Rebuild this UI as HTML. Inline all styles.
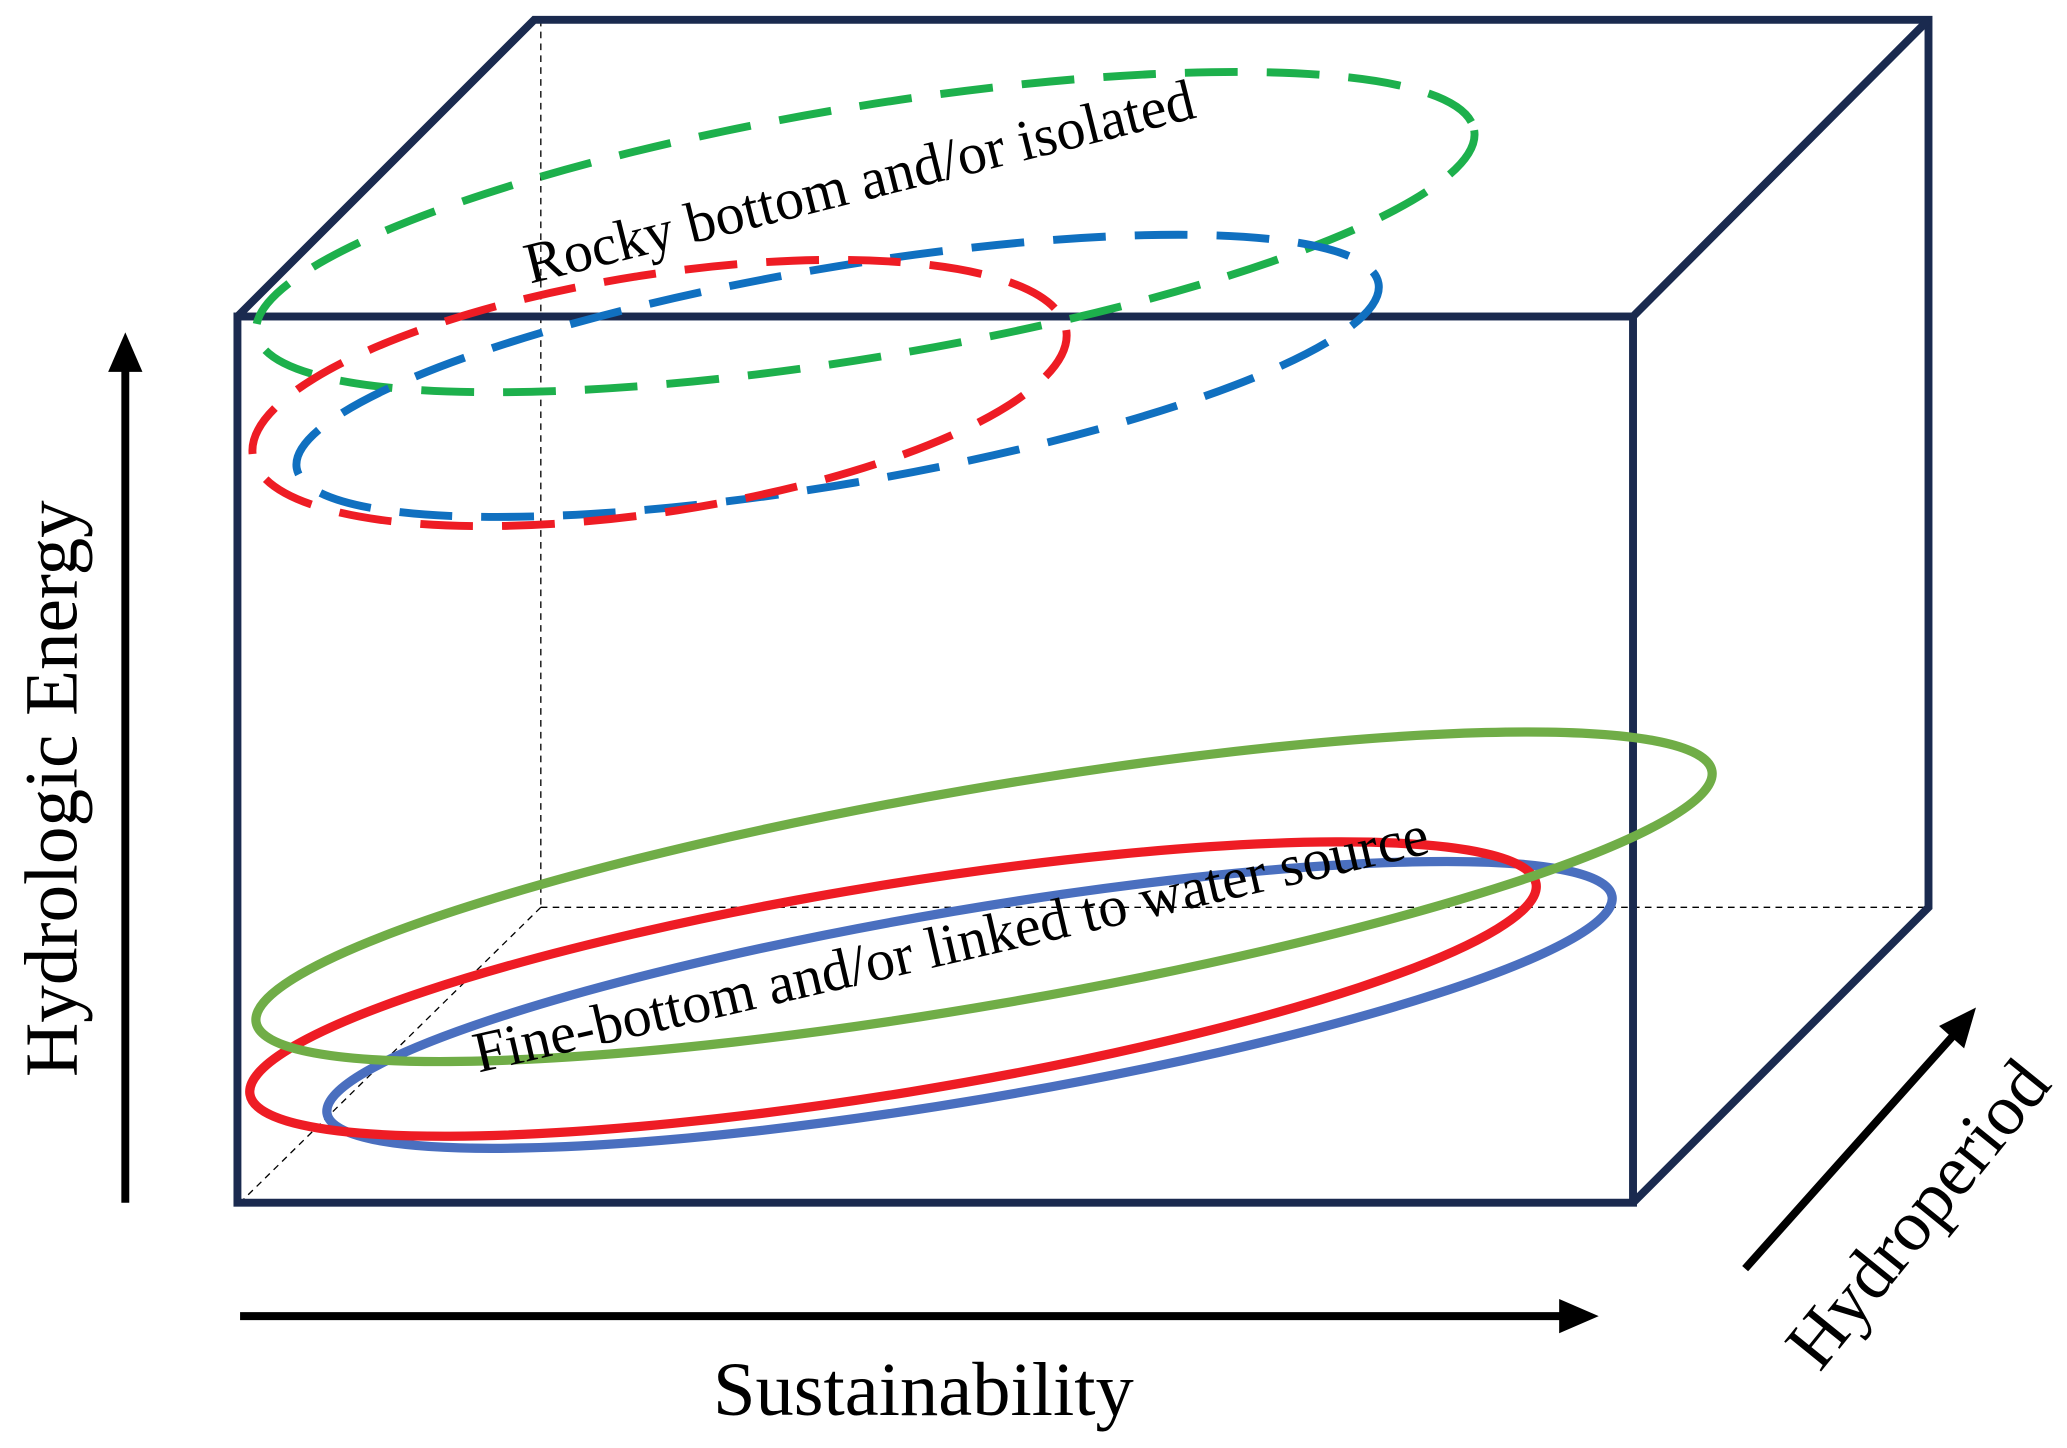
<!DOCTYPE html>
<html><head><meta charset="utf-8"><style>html,body{margin:0;padding:0;background:#fff}svg{display:block}</style></head>
<body>
<svg width="2067" height="1448" viewBox="0 0 1567 1098" preserveAspectRatio="none" xmlns="http://www.w3.org/2000/svg">
<g stroke="#000" stroke-width="1" stroke-dasharray="5,4" fill="none">
<line x1="410" y1="15" x2="410" y2="688"/>
<line x1="410" y1="688" x2="1462" y2="688"/>
<line x1="410" y1="688" x2="182" y2="912"/>
</g>
<g stroke="#1a2a4f" stroke-width="6" fill="none" stroke-linejoin="miter">
<polyline points="180,240 405,15 1462,15 1462,688 1238,912"/>
<line x1="1238" y1="240" x2="1462" y2="15"/>
<rect x="180" y="240" width="1058" height="672"/>
</g>
<g fill="none" stroke-width="6" stroke-dasharray="40,22">
<ellipse cx="656" cy="176" rx="468" ry="95" transform="rotate(-9.5 656 176)" stroke="#1db04c"/>
<ellipse cx="635" cy="285" rx="416" ry="82" transform="rotate(-9.7 635 285)" stroke="#1070c0"/>
<ellipse cx="500" cy="298" rx="312" ry="90" transform="rotate(-8.8 500 298)" stroke="#ee1c24"/>
</g>
<g fill="none" stroke-width="7">
<ellipse cx="735" cy="762" rx="494" ry="72" transform="rotate(-9.6 735 762)" stroke="#4a6fbf"/>
<ellipse cx="677" cy="750" rx="494" ry="79" transform="rotate(-9.3 677 750)" stroke="#ee1c24"/>
<ellipse cx="746" cy="680" rx="560" ry="82" transform="rotate(-9.8 746 680)" stroke="#70ad47"/>
</g>
<g font-family="Liberation Serif, serif" fill="#000">
<text x="655" y="152" font-size="44" text-anchor="middle" transform="rotate(-14 655 152)">Rocky bottom and/or isolated</text>
<text x="724" y="730" font-size="44" text-anchor="middle" transform="rotate(-13 724 730)">Fine-bottom and/or linked to water source</text>
<text x="58" y="598" font-size="57" text-anchor="middle" transform="rotate(-90 58 598)">Hydrologic Energy</text>
<text x="700" y="1073" font-size="58" text-anchor="middle">Sustainability</text>
<text x="1468" y="932" font-size="55" text-anchor="middle" transform="rotate(-51 1468 932)">Hydroperiod</text>
</g>
<g stroke="#000" stroke-width="6" fill="none">
<line x1="95" y1="912" x2="95" y2="278"/>
<line x1="182" y1="998" x2="1186" y2="998"/>
<line x1="1323" y1="962" x2="1481" y2="785"/>
</g>
<g fill="#000">
<polygon points="95,252 82,282 108,282"/>
<polygon points="1212,998 1182,985 1182,1011"/>
<polygon points="1498,764 1470,778 1489,795"/>
</g>
</svg>
</body></html>
